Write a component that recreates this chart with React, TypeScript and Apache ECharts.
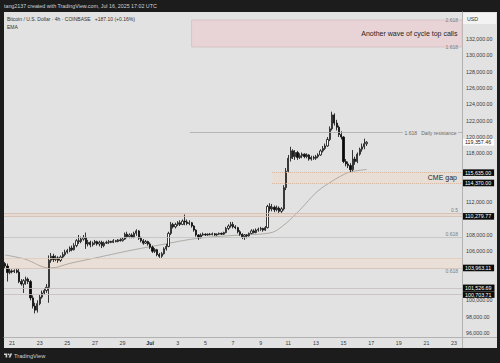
import React, { useEffect, useRef } from "react";
import * as echarts from "echarts";

// ---------- data ----------
// time axis = hours counted from 2025-06-19 00:00 UTC
const ORIGIN_UTC = Date.UTC(2025, 5, 19);
const FIRST_CANDLE = "2025-06-20T12:00:00Z";
const CANDLE_HOURS = 4;
const VIEW_FROM_H = 34;
const VIEW_TO_H = 829.8;

// 4h candles, each [open, close, low, high]
const jun20 = [[104500,104200,103900,104700],[104200,103400,102300,104500],[103400,103600,103200,103900]];
const jun21 = [[103600,103500,103300,103800],[103500,103650,103350,103800],[103650,103450,103300,103900],[103450,102300,102100,103900],[102300,102000,101800,102600],[102000,102400,100900,102600]];
const jun22 = [[102400,102600,101900,102900],[102600,102300,102000,102800],[102300,100300,100000,102500],[100300,99300,99000,100600],[99300,98800,98400,99700],[98800,99600,98500,100000]];
const jun23 = [[99600,100400,99400,100700],[100400,100900,100200,101200],[100900,101200,100700,101500],[101200,101600,100900,102000],[101600,104900,99700,105500],[104900,105400,104600,105800]];
const jun24 = [[105400,105000,104700,105700],[105000,105200,104800,105500],[105200,104900,104600,105400],[104900,105300,104700,105500],[105300,105600,105100,105900],[105600,105900,105400,106200]];
const jun25 = [[105900,106100,105700,106300],[106100,106400,105900,106600],[106400,106200,106000,106700],[106200,106700,106100,107000],[106700,107300,106500,107500],[107300,107200,106900,108000]];
const jun26 = [[107200,107500,107000,107800],[107500,107700,107300,108000],[107700,106900,106300,108300],[106900,107100,106600,107400],[107100,106800,106500,107300],[106800,107000,106600,107200]];
const jun27 = [[107000,107200,106800,107400],[107200,106900,106700,107300],[106900,107100,106600,107300],[107100,106700,106400,107300],[106700,107000,106500,107200],[107000,107100,106900,107300]];
const jun28 = [[107100,107200,106900,107400],[107200,107100,107000,107300],[107100,107300,107000,107500],[107300,107200,107100,107400],[107200,107400,107100,107500],[107400,107300,107200,107600]];
const jun29 = [[107300,107500,107200,107700],[107500,108100,107400,108300],[108100,107800,107600,108400],[107800,108000,107600,108200],[108000,107700,107600,108200],[107700,108200,107600,108400]];
const jun30 = [[108200,108500,107900,108700],[108500,107600,107400,108600],[107600,107300,107100,107800],[107300,107000,106800,107500],[107000,107200,106900,107400],[107200,106900,106700,107300]];
const jul01 = [[106900,106500,106300,107100],[106500,106000,105800,106700],[106000,106200,105800,106400],[106200,105600,105400,106300],[105600,105400,105200,105800],[105400,105700,105200,105900]];
const jul02 = [[105700,106300,105600,106500],[106300,106600,106100,106900],[106600,108200,106500,108400],[108200,109300,108000,109600],[109300,109000,108800,109500],[109000,109300,108800,109500]];
const jul03 = [[109300,109500,109100,109700],[109500,109300,109100,109800],[109300,109700,109200,109900],[109700,109600,109200,110500],[109600,109400,109200,109900],[109400,109500,109200,109800]];
const jul04 = [[109500,109100,108900,109600],[109100,108600,108400,109200],[108600,108000,107800,108700],[108000,107700,107400,108100],[107700,108000,107600,108200],[108000,108100,107900,108300]];
const jul05 = [[108100,108000,107900,108200],[108000,108100,107900,108200],[108100,108050,107950,108250],[108050,108150,107950,108300],[108150,108000,107900,108250],[108000,108100,107900,108200]];
const jul06 = [[108100,108200,108000,108300],[108200,108100,108000,108300],[108100,108300,108000,108400],[108300,108800,108200,109000],[108800,109100,108600,109300],[109100,109300,108900,109600]];
const jul07 = [[109300,109000,108800,109600],[109000,108900,108700,109200],[108900,108400,108200,109000],[108400,108100,107900,108600],[108100,107800,107500,108200],[107800,108000,107400,108100]];
const jul08 = [[108000,107900,107600,108100],[107900,108200,107800,108300],[108200,108500,108100,108700],[108500,108300,108200,108700],[108300,108600,108200,108800],[108600,108700,108400,108900]];
const jul09 = [[108700,108800,108500,109000],[108800,108600,108400,108900],[108600,108900,108500,109100],[108900,111500,108800,111700],[111500,111200,110900,111900],[111200,111400,110900,111800]];
const jul10 = [[111400,111100,110800,111600],[111100,111300,110900,111600],[111300,110900,110700,111500],[110900,111200,110700,111400],[111200,113800,111000,114100],[113800,115800,113500,116200]];
const jul11 = [[115800,117400,115600,117800],[117400,118300,117000,118800],[118300,117600,117300,118500],[117600,118100,117200,118400],[118100,117500,117200,118300],[117500,117700,117300,118000]];
const jul12 = [[117700,117900,117400,118100],[117900,117600,117400,118000],[117600,117800,117400,118000],[117800,117300,117100,117900],[117300,117500,117100,117700],[117500,117400,117200,117700]];
const jul13 = [[117400,117600,117200,117800],[117600,117800,117400,118000],[117800,118300,117700,118500],[118300,118600,118100,118900],[118600,118900,118400,119200],[118900,119700,118800,120000]];
const jul14 = [[119700,121000,119500,121300],[121000,122700,120800,123100],[122700,121700,121400,122900],[121700,121200,120800,122100],[121200,120300,120000,121400],[120300,120000,119700,120700]];
const jul15 = [[120000,117000,116800,120100],[117000,116700,116400,117300],[116700,116500,116200,117000],[116500,116000,115700,116800],[116000,117300,115800,118400],[117300,117000,116600,117600]];
const jul16 = [[117000,117900,116800,118100],[117900,118500,117700,118700],[118500,118800,118200,119200],[118800,119170.36,118500,119800],[119170.36,119357.46,118900,119500]];

// EMA: [time, price]
const EMA_POINTS: [string, number][] = [
  ["2025-06-20T12:00:00Z", 105550], ["2025-06-21T22:00:00Z", 105050], ["2025-06-23T18:00:00Z", 103960],
  ["2025-06-25T06:00:00Z", 104550], ["2025-06-27T08:00:00Z", 105300], ["2025-06-29T13:00:00Z", 106100],
  ["2025-07-01T17:00:00Z", 106780], ["2025-07-04T09:00:00Z", 107570], ["2025-07-07T12:00:00Z", 108000],
  ["2025-07-09T16:00:00Z", 108250], ["2025-07-10T15:00:00Z", 109150], ["2025-07-11T20:00:00Z", 111060],
  ["2025-07-13T02:00:00Z", 113300], ["2025-07-14T06:00:00Z", 114670], ["2025-07-14T23:00:00Z", 115350],
  ["2025-07-15T11:00:00Z", 115710], ["2025-07-16T16:00:00Z", 116020],
];

// price scale (ticks hidden behind price tags are left out, as on the reference)
const PRICE_MIN = 95510;
const PRICE_MAX = 135305;
const PRICE_TICKS = [96000,98000,100000,106000,108000,112000,118000,120000,122000,124000,126000,128000,130000,132000];

// date axis
const DATE_TICKS = ["2025-06-21","2025-06-23","2025-06-25","2025-06-27","2025-06-29","2025-07-01","2025-07-03","2025-07-05","2025-07-07","2025-07-09","2025-07-11","2025-07-13","2025-07-15","2025-07-17","2025-07-19","2025-07-21","2025-07-23"];
const DATE_TICK_LABELS = ["21","23","25","27","29","Jul","3","5","7","9","11","13","15","17","19","21","23"];

// drawn levels
const TOP_ZONE = [131020, 134330];
const TOP_ZONE_FROM = "2025-07-04T00:00:00Z";
const DAILY_RESISTANCE = 120550;
const DAILY_RESISTANCE_FROM = "2025-07-03T21:00:00Z";
const CME_GAP = [114370.0, 115635.0];
const CME_GAP_FROM = "2025-07-09T20:00:00Z";
const HALF_BAND = [110279.77, 110650];
const FIB_LINE = 107750;
const LOW_BAND = [103963.11, 105190];
const SUPPORT_LINES = [101526.69, 100703.71];
const LAST_PRICE = 119357.46;

// ---------- helpers ----------
const FONT = "'Liberation Sans', Arial, Helvetica, sans-serif";
const PANEL_BG = "#e2e2e2";
const FRAME_BG = "#1c1c1c";

const hourOf = (iso: string) => (Date.parse(iso.length === 10 ? iso + "T00:00:00Z" : iso) - ORIGIN_UTC) / 3600000;
const fmtPrice = (v: number) => v.toLocaleString("en-US", { minimumFractionDigits: 2, maximumFractionDigits: 2 });

const TV_LOGO = "M14 22H7V11H0V4h14v18zM28 22h-8l7.5-18h8L28 22zM20 4a4 4 0 1 1 0 8a4 4 0 1 1 0-8z";
echarts.graphic.registerShape("tvlogo", (echarts.graphic as any).extendPath(TV_LOGO, {}));

function buildOption() {
  const all = [
    ...jun20, ...jun21, ...jun22, ...jun23, ...jun24, ...jun25, ...jun26, ...jun27, ...jun28, ...jun29, ...jun30,
    ...jul01, ...jul02, ...jul03, ...jul04, ...jul05, ...jul06, ...jul07, ...jul08, ...jul09, ...jul10,
    ...jul11, ...jul12, ...jul13, ...jul14, ...jul15, ...jul16,
  ];
  const h0 = hourOf(FIRST_CANDLE);
  const candleData = all.map((c, i) => [h0 + i * CANDLE_HOURS, c[0], c[1], c[2], c[3]]);
  const emaData = EMA_POINTS.map(([t, p]) => [hourOf(t), p]);
  const tickHours = DATE_TICKS.map(hourOf);

  const hidden = { color: "rgba(0,0,0,0)", width: 0.5, opacity: 1 };
  const thin = (color: string, type = "solid", width = 0.8) => ({ color, type, width, opacity: 1 });
  const tag = (v: number, bg = "#0c0c0c", fg = "#ffffff") => ({
    show: true, position: "end", formatter: fmtPrice(v), backgroundColor: bg, color: fg,
    fontSize: 5.3, fontFamily: FONT, padding: [1, 3, 0.6, 2], distance: 1,
  });
  const fib = (text: string, position: string) => ({
    show: true, position, formatter: text, fontSize: 5, fontFamily: FONT, color: "#7c7c7c", distance: [4, 1],
  });

  const xTop = hourOf(TOP_ZONE_FROM);
  const xCme = hourOf(CME_GAP_FROM);
  const xRes = hourOf(DAILY_RESISTANCE_FROM);

  const markLines: any[] = [
    [{ xAxis: xRes, yAxis: DAILY_RESISTANCE, lineStyle: thin("#ababab"), label: { show: true, position: "insideEnd", formatter: "1.618   Daily resistance", fontSize: 5, fontFamily: FONT, color: "#6a6a6a", backgroundColor: PANEL_BG, padding: [0, 1.5], distance: [4, 0] } }, { xAxis: VIEW_TO_H, yAxis: DAILY_RESISTANCE }],
    [{ xAxis: xTop, yAxis: TOP_ZONE[1], lineStyle: hidden, label: { ...fib("2.618", "insideEnd"), distance: [4, 0] } }, { xAxis: VIEW_TO_H, yAxis: TOP_ZONE[1] }],
    [{ xAxis: xTop, yAxis: TOP_ZONE[0], lineStyle: hidden, label: { ...fib("1.618", "insideEnd"), distance: [4, 0] } }, { xAxis: VIEW_TO_H, yAxis: TOP_ZONE[0] }],
    [{ xAxis: xCme, yAxis: CME_GAP[1], lineStyle: thin("#d9b294", "dotted", 1), label: tag(CME_GAP[1]) }, { xAxis: VIEW_TO_H, yAxis: CME_GAP[1] }],
    [{ xAxis: xCme, yAxis: CME_GAP[0], lineStyle: thin("#d9b294", "dotted", 1), label: tag(CME_GAP[0]) }, { xAxis: VIEW_TO_H, yAxis: CME_GAP[0] }],
    { yAxis: HALF_BAND[1], lineStyle: thin("#d2bcb0"), label: fib("0.5", "insideEndTop") },
    { yAxis: HALF_BAND[0], lineStyle: thin("#d2bcb0"), label: tag(HALF_BAND[0]) },
    { yAxis: FIB_LINE, lineStyle: thin("#c0c0c0"), label: fib("0.618", "insideEndTop") },
    { yAxis: LOW_BAND[1], lineStyle: thin("#dccbbd"), label: { show: false } },
    { yAxis: LOW_BAND[0], lineStyle: thin("#d4c0b2"), label: tag(LOW_BAND[0]) },
    { yAxis: LOW_BAND[0], lineStyle: hidden, label: fib("0.618", "insideEndBottom") },
    { yAxis: SUPPORT_LINES[0], lineStyle: thin("#c6bcbc"), label: tag(SUPPORT_LINES[0]) },
    { yAxis: SUPPORT_LINES[1], lineStyle: thin("#c6bcbc"), label: tag(SUPPORT_LINES[1]) },
    { yAxis: LAST_PRICE, lineStyle: hidden, label: tag(LAST_PRICE, "#ffffff", "#1a1a1a") },
  ];

  const markAreas: any[] = [
    [{ xAxis: xTop, yAxis: TOP_ZONE[1], itemStyle: { color: "#e8d4d7", borderColor: "#d4bcc0", borderWidth: 0.8 }, label: { show: true, position: "insideRight", formatter: "Another wave of cycle top calls", fontSize: 7, fontFamily: FONT, color: "#1e1e1e", distance: 5 } }, { xAxis: VIEW_TO_H, yAxis: TOP_ZONE[0] }],
    [{ xAxis: xCme, yAxis: CME_GAP[1], itemStyle: { color: "#e9ded5" }, label: { show: true, position: "insideRight", formatter: "CME gap", fontSize: 7, fontFamily: FONT, color: "#1e1e1e", distance: 5 } }, { xAxis: VIEW_TO_H, yAxis: CME_GAP[0] }],
    [{ yAxis: HALF_BAND[1], itemStyle: { color: "#e6dad3" } }, { yAxis: HALF_BAND[0] }],
    [{ yAxis: LOW_BAND[1], itemStyle: { color: "#e9dfd6" } }, { yAxis: LOW_BAND[0] }],
  ];

  return {
    animation: false,
    backgroundColor: FRAME_BG,
    textStyle: { fontFamily: FONT },
    grid: { left: 4, right: 38, top: 12, bottom: 26, containLabel: false },
    xAxis: {
      type: "value", min: VIEW_FROM_H, max: VIEW_TO_H,
      axisLine: { show: true, onZero: false, lineStyle: { color: "#b2b2b2", width: 1 } },
      axisTick: { show: false }, splitLine: { show: false },
      axisLabel: {
        customValues: tickHours, fontSize: 5.3, color: "#3a3a3a", margin: 3, fontFamily: FONT,
        formatter: (v: number) => {
          const i = tickHours.findIndex((t) => Math.abs(t - v) < 0.5);
          const s = i >= 0 ? DATE_TICK_LABELS[i] : "";
          return s === "Jul" ? "{m|Jul}" : s;
        },
        rich: { m: { fontWeight: "bold", fontSize: 5.3, color: "#222", fontFamily: FONT } },
      },
    },
    yAxis: {
      type: "value", position: "right", min: PRICE_MIN, max: PRICE_MAX,
      axisLine: { show: true, onZero: false, lineStyle: { color: "#b2b2b2", width: 1 } },
      axisTick: { show: false }, splitLine: { show: false },
      axisLabel: { customValues: PRICE_TICKS, formatter: (v: number) => fmtPrice(v), fontSize: 5.3, color: "#3a3a3a", margin: 4, fontFamily: FONT },
    },
    series: [
      {
        type: "line", name: "levels", data: [], z: 1, silent: true,
        markArea: { silent: true, data: markAreas },
        markLine: { silent: true, symbol: ["none", "none"], animation: false, data: markLines },
      },
      {
        type: "line", name: "EMA", data: emaData, smooth: 0.4, showSymbol: false, silent: true, z: 2,
        lineStyle: { color: "#a19c96", width: 0.8 },
      },
      {
        type: "candlestick", name: "BTCUSD", data: candleData, encode: { x: 0, y: [1, 2, 3, 4] },
        barWidth: 1.7, z: 3, silent: true,
        itemStyle: { color: "#ffffff", color0: "#0a0a0a", borderColor: "#0a0a0a", borderColor0: "#0a0a0a", borderWidth: 0.8 },
      },
    ],
    graphic: [
      { type: "rect", z: -10, silent: true, shape: { x: 4, y: 12, width: 493, height: 336 }, style: { fill: PANEL_BG } },
      { type: "rect", z: -5, silent: true, shape: { x: 463, y: 13, width: 33, height: 11 }, style: { fill: "#f3f3f3" } },
      { type: "line", z: 5, silent: true, shape: { x1: 462.5, y1: 337, x2: 462.5, y2: 348 }, style: { stroke: "#b2b2b2", lineWidth: 1 } },
      { type: "line", z: 5, silent: true, shape: { x1: 462, y1: 337.5, x2: 497, y2: 337.5 }, style: { stroke: "#b2b2b2", lineWidth: 1 } },
      { type: "text", z: 10, x: 467, y: 18.5, style: { text: "USD", fontSize: 5.3, fontFamily: FONT, fill: "#333", verticalAlign: "middle" } },
      { type: "text", z: 10, x: 4, y: 6, style: { text: "tang2137 created with TradingView.com, Jul 16, 2025 17:02 UTC", fontSize: 5.3, fontFamily: FONT, fill: "#d2d2d2", verticalAlign: "middle" } },
      { type: "text", z: 10, x: 7, y: 19, style: { text: "Bitcoin / U.S. Dollar · 4h · COINBASE   +187.10 (+0.16%)", fontSize: 5, fontFamily: FONT, fill: "#333", verticalAlign: "middle" } },
      { type: "text", z: 10, x: 7, y: 26.5, style: { text: "EMA", fontSize: 5, fontFamily: FONT, fill: "#333", verticalAlign: "middle" } },
      { type: "tvlogo", z: 10, x: 4, y: 352.5, scaleX: 0.23, scaleY: 0.23, style: { fill: "#d2d2d2" } },
      { type: "text", z: 10, x: 14, y: 356, style: { text: "TradingView", fontSize: 5.7, fontFamily: FONT, fill: "#d2d2d2", verticalAlign: "middle" } },
    ],
  };
}

export default function App() {
  const ref = useRef<HTMLDivElement>(null);
  useEffect(() => {
    if (!ref.current) return;
    const chart = echarts.init(ref.current, null, { renderer: "svg" });
    chart.setOption(buildOption() as any);
    return () => chart.dispose();
  }, []);
  return <div ref={ref} style={{ position: "absolute", left: 0, top: 0, width: 500, height: 363 }} />;
}
